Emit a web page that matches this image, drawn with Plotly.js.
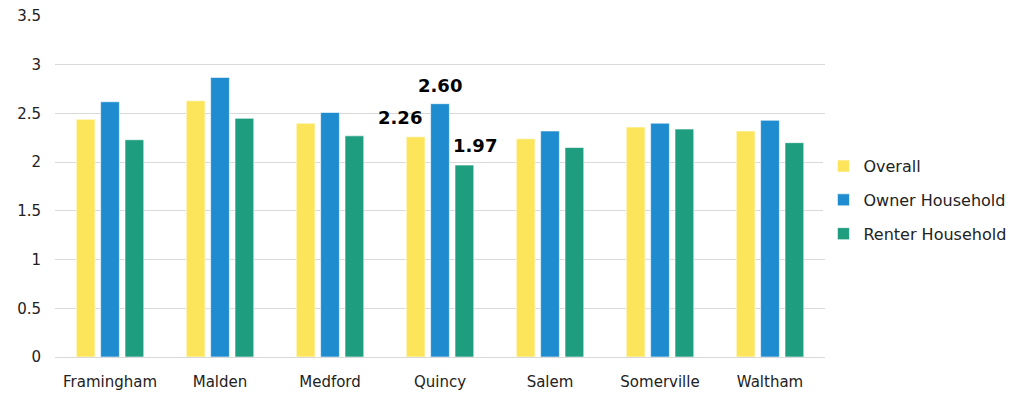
<!DOCTYPE html>
<html>
<head>
<meta charset="utf-8">
<script src="https://cdn.plot.ly/plotly-3.0.1.min.js"></script>
<style>
  html, body { margin: 0; padding: 0; background: #fff; }
  #chart { width: 1028px; height: 393px; }
</style>
</head>
<body>
<div id="chart"></div>
<script>
// Average household size by city and tenure
const cities = ['Framingham', 'Malden', 'Medford', 'Quincy', 'Salem', 'Somerville', 'Waltham'];
const overall = [2.44, 2.63, 2.40, 2.26, 2.24, 2.36, 2.32];
const owner   = [2.62, 2.87, 2.51, 2.60, 2.32, 2.40, 2.43];
const renter  = [2.23, 2.45, 2.27, 1.97, 2.15, 2.34, 2.20];
const yTicks = [0, 0.5, 1, 1.5, 2, 2.5, 3, 3.5];
const yTickText = ['0', '0.5', '1', '1.5', '2', '2.5', '3', '3.5'];

// City whose values are labelled on the bars
const labelledCity = 'Quincy';

const FONT = '"DejaVu Sans", Verdana, sans-serif';
const colors = { overall: '#FCE55A', owner: '#1E8CCE', renter: '#1F9D7F' };

function series(name, values, color) {
  return {
    type: 'bar', name: name, x: cities, y: values, legendgroup: name,
    marker: { color: color, line: { color: 'rgba(255,255,255,0.6)', width: 1 } },
    hoverinfo: 'x+y'
  };
}

const data = [
  series('Overall', overall, colors.overall),
  series('Owner Household', owner, colors.owner),
  series('Renter Household', renter, colors.renter)
];

const idx = cities.indexOf(labelledCity);
const labelSpecs = [
  { v: overall[idx], xshift: -40, yshift: 7 },
  { v: owner[idx], xshift: 0, yshift: 6 },
  { v: renter[idx], xshift: 35, yshift: 7 }
];
const annotations = labelSpecs.map(s => ({
  x: labelledCity, y: s.v, xref: 'x', yref: 'y',
  text: s.v.toFixed(2), showarrow: false,
  yanchor: 'bottom', xanchor: 'center',
  xshift: s.xshift, yshift: s.yshift,
  font: { family: FONT, size: 18, color: '#000', weight: 'bold' }
}));

const layout = {
  width: 1028, height: 393,
  margin: { l: 55, r: 203, t: 16, b: 36, autoexpand: false },
  paper_bgcolor: '#fff', plot_bgcolor: '#fff',
  barmode: 'group', bargap: 0.335, bargroupgap: 0.23,
  font: { family: FONT, size: 15, color: '#222' },
  xaxis: {
    type: 'category', showgrid: false, zeroline: false,
    showline: false, ticks: '', ticklabelstandoff: 14,
    tickfont: { size: 15, color: '#222' }
  },
  yaxis: {
    range: [0, 3.5], tickvals: yTicks, ticktext: yTickText,
    showgrid: true, gridcolor: '#d9d9d9', gridwidth: 1,
    zeroline: true, zerolinecolor: '#d9d9d9', zerolinewidth: 1,
    showline: false, ticks: '', ticklabelstandoff: 13,
    tickfont: { size: 15, color: '#222' }
  },
  legend: {
    x: 0.998, xanchor: 'left', y: 0.46, yanchor: 'middle',
    font: { size: 16, color: '#222' },
    traceorder: 'grouped', tracegroupgap: 10,
    itemwidth: 30
  },
  annotations: annotations,
  showlegend: true
};

Plotly.newPlot('chart', data, layout, { displayModeBar: false, staticPlot: true });
</script>
</body>
</html>
